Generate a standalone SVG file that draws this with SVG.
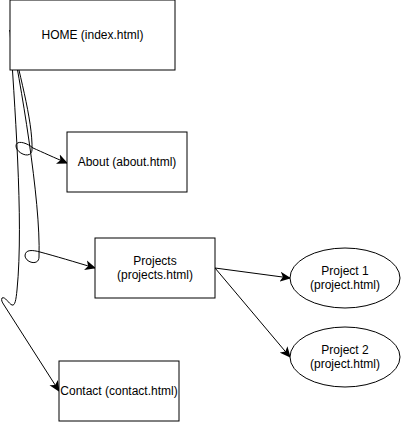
<svg xmlns="http://www.w3.org/2000/svg" width="404" height="422" viewBox="0 0 404 422">
<defs>
<marker id="arr" viewBox="0 0 10 10" refX="9" refY="5" markerWidth="11" markerHeight="11" markerUnits="userSpaceOnUse" orient="auto">
<path d="M0,0.5 L10,5 L0,9.5 L2.5,5 Z" fill="#000"/>
</marker>
<style>
.n{fill:#fff;stroke:#000;stroke-width:1}
.e{fill:none;stroke:#000;stroke-width:1}
text{font-family:"Liberation Sans",Arial,sans-serif;font-size:12px;fill:#000;text-anchor:middle}
</style>
</defs>
<rect width="404" height="422" fill="#fff"/>
<g id="connectors">
<path class="e" marker-end="url(#arr)" d="M10 30 C18 70,33 120,32 150 C31 160,16 153,16 146 C16 140,26 142,33 148 C42 152,55 158,67 163"/>
<path class="e" marker-end="url(#arr)" d="M10 30 C20 80,41 200,39 257 C39 266,26 263,25 256 C25 249,33 250,40 252 C55 256,75 262,95 268"/>
<path class="e" marker-end="url(#arr)" d="M10 30 C14 100,24 220,17 290 C16 300,15 306,12 305 C9 304,5 296,2 298 C1 300,2 302,4 305 L59 391"/>
<path class="e" marker-end="url(#arr)" d="M215 268 L290 278"/>
<path class="e" marker-end="url(#arr)" d="M215 268 L290 357"/>
</g>
<g id="home"><rect class="n" x="10" y="0" width="165" height="70"/><text x="92.5" y="39">HOME (index.html)</text></g>
<g id="about"><rect class="n" x="67" y="132" width="120" height="60"/><text x="127" y="166">About (about.html)</text></g>
<g id="projects"><rect class="n" x="95" y="238" width="120" height="60"/><text x="155" y="265">Projects</text><text x="155" y="279">(projects.html)</text></g>
<g id="contact"><rect class="n" x="59" y="361" width="120" height="60"/><text x="119" y="395">Contact (contact.html)</text></g>
<g id="project1"><ellipse class="n" cx="345" cy="278" rx="55" ry="30"/><text x="345" y="275">Project 1</text><text x="345" y="289">(project.html)</text></g>
<g id="project2"><ellipse class="n" cx="345" cy="357" rx="55" ry="30"/><text x="345" y="354">Project 2</text><text x="345" y="368">(project.html)</text></g>
</svg>
